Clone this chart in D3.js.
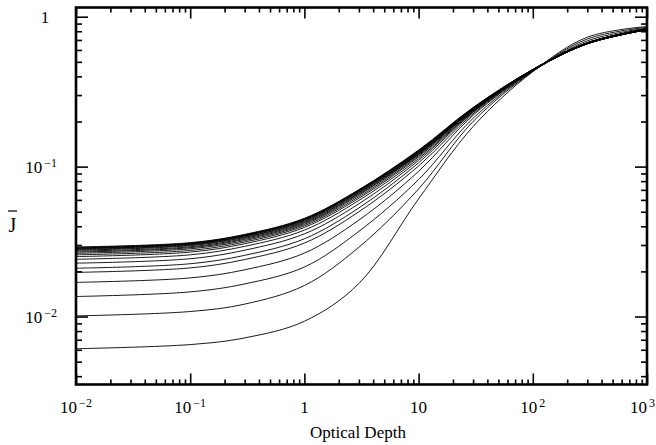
<!DOCTYPE html>
<html>
<head>
<meta charset="utf-8">
<script src="https://cdn.jsdelivr.net/npm/d3@7"></script>
<style>
  body { margin: 0; background: #fff; }
  svg { display: block; }
  text { font-family: "Liberation Serif", "Times New Roman", serif; fill: #000; }
</style>
</head>
<body>
<svg id="chart"></svg>
<script>
// optical depth sample points (x)
const tau = [0.01, 0.1, 0.3, 1, 3, 10, 30, 100, 300, 1000];

// mean intensity J for each curve (bottom curve first)
const J01 = [0.0061, 0.0065, 0.0072, 0.0093, 0.0166, 0.061, 0.185, 0.430, 0.73, 0.86];
const J02 = [0.0101, 0.0108, 0.0121, 0.0161, 0.0290, 0.071, 0.200, 0.432, 0.71, 0.85];
const J03 = [0.0136, 0.0146, 0.0165, 0.0214, 0.0370, 0.082, 0.210, 0.434, 0.69, 0.84];
const J04 = [0.0169, 0.0181, 0.0205, 0.0265, 0.0440, 0.093, 0.220, 0.435, 0.67, 0.83];
const J05 = [0.0197, 0.0211, 0.0240, 0.0309, 0.0500, 0.101, 0.225, 0.436, 0.665, 0.825];
const J06 = [0.0210, 0.0225, 0.0256, 0.0330, 0.0530, 0.106, 0.230, 0.437, 0.66, 0.82];
const J07 = [0.0227, 0.0243, 0.0277, 0.0356, 0.0565, 0.110, 0.232, 0.438, 0.66, 0.82];
const J08 = [0.0241, 0.0258, 0.0294, 0.0377, 0.0595, 0.113, 0.234, 0.439, 0.66, 0.82];
const J09 = [0.0251, 0.0269, 0.0306, 0.0393, 0.0615, 0.116, 0.236, 0.440, 0.66, 0.82];
const J10 = [0.0258, 0.0276, 0.0314, 0.0403, 0.0630, 0.118, 0.238, 0.440, 0.66, 0.82];
const J11 = [0.0264, 0.0283, 0.0321, 0.0411, 0.0645, 0.120, 0.239, 0.441, 0.66, 0.82];
const J12 = [0.0269, 0.0288, 0.0327, 0.0418, 0.0655, 0.121, 0.240, 0.441, 0.66, 0.82];
const J13 = [0.0273, 0.0292, 0.0332, 0.0424, 0.0665, 0.122, 0.241, 0.442, 0.665, 0.82];
const J14 = [0.0277, 0.0297, 0.0337, 0.0430, 0.0672, 0.123, 0.242, 0.442, 0.665, 0.825];
const J15 = [0.0280, 0.0300, 0.0340, 0.0435, 0.0680, 0.124, 0.243, 0.443, 0.665, 0.825];
const J16 = [0.0283, 0.0303, 0.0344, 0.0440, 0.0686, 0.125, 0.244, 0.443, 0.67, 0.825];
const J17 = [0.0285, 0.0305, 0.0346, 0.0443, 0.0690, 0.126, 0.245, 0.444, 0.67, 0.83];
const J18 = [0.0287, 0.0307, 0.0349, 0.0446, 0.0695, 0.127, 0.246, 0.444, 0.67, 0.83];
const J19 = [0.0289, 0.0309, 0.0351, 0.0449, 0.0698, 0.128, 0.247, 0.445, 0.67, 0.83];
const J20 = [0.0291, 0.0311, 0.0353, 0.0452, 0.0702, 0.129, 0.248, 0.445, 0.67, 0.83];

const curves = [J01, J02, J03, J04, J05, J06, J07, J08, J09, J10,
                J11, J12, J13, J14, J15, J16, J17, J18, J19, J20];

// tick values and labels
const xMajor = [0.01, 0.1, 1, 10, 100, 1000];
const xLabels = [["10", "\u22122"], ["10", "\u22121"], ["1", ""], ["10", ""], ["10", "2"], ["10", "3"]];
const yMajor = [0.01, 0.1, 1];
const yLabels = [["10", "\u22122"], ["10", "\u22121"], ["1", ""]];

const width = 656, height = 445;
const mLeft = 76, mRight = 647, mTop = 7.5, mBottom = 384.5;

const svg = d3.select("#chart").attr("width", width).attr("height", height);

const x = d3.scaleLog().domain([0.01, 1000]).range([mLeft, mRight]);
const y = d3.scaleLog().domain([0.00352, 1.152]).range([mBottom, mTop]);

// minor ticks 2..9 in every decade
const xMinor = [];
[0.01, 0.1, 1, 10, 100].forEach(d => { for (let k = 2; k <= 9; k++) xMinor.push(d * k); });
const yMinor = [];
[0.001, 0.01, 0.1].forEach(d => {
  for (let k = 2; k <= 9; k++) { const v = d * k; if (v > 0.00352 && v < 1.152) yMinor.push(v); }
});

// curves
const line = d3.line()
  .x((d, i) => x(tau[i]))
  .y(d => y(d))
  .curve(d3.curveCatmullRom.alpha(0.5));

svg.append("g")
  .selectAll("path").data(curves).enter().append("path")
  .attr("d", line)
  .attr("fill", "none")
  .attr("stroke", "#000")
  .attr("stroke-width", 0.9);

// axes, ticks pointing inward on all four sides
function ticks(axis, vals, size, tr) {
  const g = svg.append("g")
    .attr("transform", tr)
    .call(axis.tickValues(vals).tickSize(size).tickFormat(""));
  g.select(".domain").remove();
  g.selectAll("line").attr("stroke", "#000").attr("stroke-width", 1.6);
}
ticks(d3.axisBottom(x), xMajor, -11, `translate(0,${mBottom})`);
ticks(d3.axisBottom(x), xMinor, -5, `translate(0,${mBottom})`);
ticks(d3.axisTop(x), xMajor, -11, `translate(0,${mTop})`);
ticks(d3.axisTop(x), xMinor, -5, `translate(0,${mTop})`);
ticks(d3.axisLeft(y), yMajor, -12, `translate(${mLeft},0)`);
ticks(d3.axisLeft(y), yMinor, -6, `translate(${mLeft},0)`);
ticks(d3.axisRight(y), yMajor, -12, `translate(${mRight},0)`);
ticks(d3.axisRight(y), yMinor, -6, `translate(${mRight},0)`);

// frame
svg.append("rect")
  .attr("x", mLeft).attr("y", mTop)
  .attr("width", mRight - mLeft).attr("height", mBottom - mTop)
  .attr("fill", "none").attr("stroke", "#000").attr("stroke-width", 2.6);

// x tick labels (last one kept inside the page edge)
const xt = svg.append("g").selectAll("text").data(xMajor).enter().append("text")
  .attr("x", d => d === 1000 ? 655 : x(d))
  .attr("y", 413)
  .attr("text-anchor", d => d === 1000 ? "end" : "middle")
  .style("font-size", "17px");
xt.append("tspan").text((d, i) => xLabels[i][0]);
xt.append("tspan").attr("dx", 2).attr("dy", -6).style("font-size", "12px").text((d, i) => xLabels[i][1]);

// y tick labels
const yt = svg.append("g").selectAll("text").data(yMajor).enter().append("text")
  .attr("x", d => d === 1 ? 45 : 57)
  .attr("y", d => y(d) + 6)
  .attr("text-anchor", d => d === 1 ? "middle" : "end")
  .style("font-size", "17px");
yt.append("tspan").text((d, i) => yLabels[i][0]);
yt.append("tspan").attr("dx", 2).attr("dy", -6).style("font-size", "12px").text((d, i) => yLabels[i][1]);

// axis titles
svg.append("text")
  .attr("x", 358).attr("y", 438)
  .attr("text-anchor", "middle")
  .style("font-size", "17px")
  .text("Optical Depth");

svg.append("text")
  .attr("x", 12.5).attr("y", 232)
  .attr("text-anchor", "middle")
  .style("font-size", "20px")
  .text("J");
svg.append("line")
  .attr("x1", 8).attr("x2", 17).attr("y1", 211).attr("y2", 211)
  .attr("stroke", "#000").attr("stroke-width", 1.2);
</script>
</body>
</html>
